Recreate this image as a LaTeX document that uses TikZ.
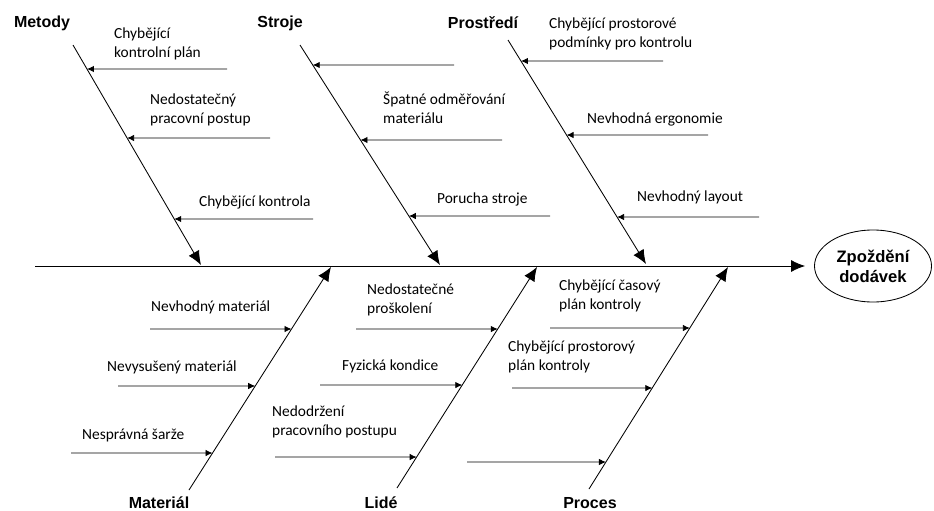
\documentclass[tikz,border=0pt]{standalone}
\usepackage{fontspec}
\setmainfont{Carlito}
\newfontfamily\headfont{Liberation Sans}
\usetikzlibrary{arrows.meta,shapes.geometric}

\tikzset{
  cat/.style={font=\headfont\bfseries\fontsize{16}{18}\selectfont, inner sep=0pt},
  cause/.style={font=\fontsize{15.4}{18.8}\selectfont, align=left, anchor=west, inner sep=0pt},
  bone/.style={line width=0.85pt, -{Latex[length=14pt,width=12pt]}},
  twig/.style={line width=0.85pt, -{Latex[length=7pt,width=6.5pt]}},
}

\begin{document}
\begin{tikzpicture}[x=1pt,y=-1pt]
  \fill[white] (0,0) rectangle (934,511);
  \useasboundingbox (0,0) rectangle (934,511);

  % effect and spine
  \node[draw, ellipse, line width=0.85pt, minimum width=117pt, minimum height=72pt,
        inner sep=0pt, align=center, font=\headfont\bfseries\fontsize{16.6}{20}\selectfont]
        (goal) at (873,266) {Zpoždění\\dodávek};
  \coordinate (spS) at (35,266);
  \draw[bone, shorten >=9pt] (spS) -- (goal.west);

  % category labels
  \node[cat] (lMet) at (42,23) {Metody};
  \node[cat] (lStr) at (280,23) {Stroje};
  \node[cat] (lPro) at (483,23) {Prostředí};
  \node[cat] (lMat) at (159,503) {Materiál};
  \node[cat] (lLid) at (381,503) {Lidé};
  \node[cat] (lPrc) at (590,503) {Proces};

  % main bones
  \coordinate (mS) at (73,45);   \coordinate (mE) at (201,265);
  \coordinate (sS) at (300,45);  \coordinate (sE) at (440,265);
  \coordinate (pS) at (508,40);  \coordinate (pE) at (646,264);
  \coordinate (aS) at (189,490); \coordinate (aE) at (331,267);
  \coordinate (lS) at (397,488); \coordinate (lE) at (537,267);
  \coordinate (cS) at (589,489); \coordinate (cE) at (728,267);
  \foreach \b in {m,s,p,a,l,c} \draw[bone] (\b S) -- (\b E);

  % Metody
  \coordinate (m1) at (227,69);  \coordinate (m1t) at (intersection of mS--mE and m1--0,69);
  \coordinate (m2) at (270,138); \coordinate (m2t) at (intersection of mS--mE and m2--0,138);
  \coordinate (m3) at (313,219); \coordinate (m3t) at (intersection of mS--mE and m3--0,219);
  \node[cause] (tm1) at (114,44) {Chybějící\\kontrolní plán};
  \node[cause] (tm2) at (150,110) {Nedostatečný\\pracovní postup};
  \node[cause] (tm3) at (199,202) {Chybějící kontrola};

  % Stroje
  \coordinate (s1) at (454,65);  \coordinate (s1t) at (intersection of sS--sE and s1--0,65);
  \coordinate (s2) at (502,140); \coordinate (s2t) at (intersection of sS--sE and s2--0,140);
  \coordinate (s3) at (550,216); \coordinate (s3t) at (intersection of sS--sE and s3--0,216);
  \node[cause] (ts2) at (383,108) {Špatné odměřování\\materiálu};
  \node[cause] (ts3) at (437,199) {Porucha stroje};

  % Prostředí
  \coordinate (p1) at (663,61);  \coordinate (p1t) at (intersection of pS--pE and p1--0,61);
  \coordinate (p2) at (708,135); \coordinate (p2t) at (intersection of pS--pE and p2--0,135);
  \coordinate (p3) at (759,217); \coordinate (p3t) at (intersection of pS--pE and p3--0,217);
  \node[cause] (tp1) at (549,34) {Chybějící prostorové\\podmínky pro kontrolu};
  \node[cause] (tp2) at (587,119) {Nevhodná ergonomie};
  \node[cause] (tp3) at (637,197) {Nevhodný layout};

  % Materiál
  \coordinate (a1) at (150,329); \coordinate (a1t) at (intersection of aS--aE and a1--0,329);
  \coordinate (a2) at (118,386); \coordinate (a2t) at (intersection of aS--aE and a2--0,386);
  \coordinate (a3) at (71,453);  \coordinate (a3t) at (intersection of aS--aE and a3--0,453);
  \node[cause] (ta1) at (151,307) {Nevhodný materiál};
  \node[cause] (ta2) at (107,367) {Nevysušený materiál};
  \node[cause] (ta3) at (82,435) {Nesprávná šarže};

  % Lidé
  \coordinate (l1) at (356,329); \coordinate (l1t) at (intersection of lS--lE and l1--0,329);
  \coordinate (l2) at (320,385); \coordinate (l2t) at (intersection of lS--lE and l2--0,385);
  \coordinate (l3) at (275,457); \coordinate (l3t) at (intersection of lS--lE and l3--0,457);
  \node[cause] (tl1) at (367,300) {Nedostatečné\\proškolení};
  \node[cause] (tl2) at (342,366) {Fyzická kondice};
  \node[cause] (tl3) at (272,422) {Nedodržení\\pracovního postupu};

  % Proces
  \coordinate (c1) at (550,328); \coordinate (c1t) at (intersection of cS--cE and c1--0,328);
  \coordinate (c2) at (512,388); \coordinate (c2t) at (intersection of cS--cE and c2--0,388);
  \coordinate (c3) at (467,462); \coordinate (c3t) at (intersection of cS--cE and c3--0,462);
  \node[cause] (tc1) at (559,296) {Chybějící časový\\plán kontroly};
  \node[cause] (tc2) at (508,357) {Chybějící prostorový\\plán kontroly};

  % cause arrows
  \foreach \b in {m,s,p,a,l,c}
    \foreach \i in {1,2,3}
      \draw[twig] (\b\i) -- (\b\i t);
\end{tikzpicture}
\end{document}
